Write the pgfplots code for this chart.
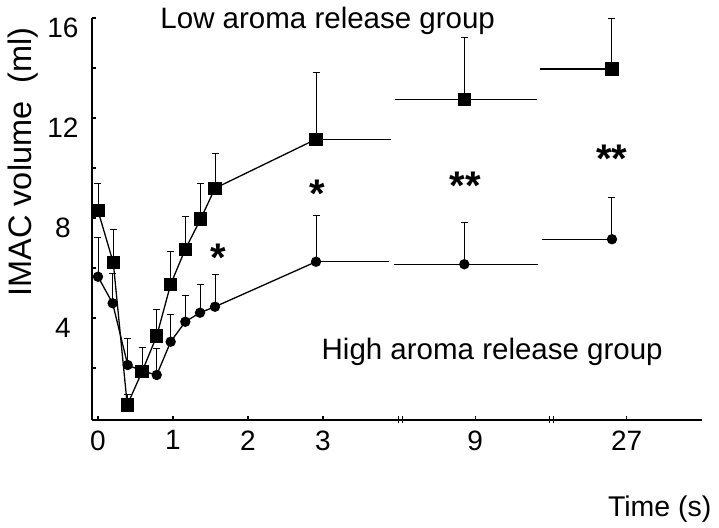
\documentclass[border=0pt]{standalone}
\usepackage{pgfplots}
\pgfplotsset{compat=1.18}
\usepackage{fontspec}
\setmainfont{Liberation Sans}
\begin{document}
\begin{tikzpicture}
\begin{axis}[
  scale only axis,
  width=610pt, height=402pt,
  xmin=-0.08, xmax=8.053,
  ymin=-0.08, ymax=16,
  axis lines=left,
  axis line style={line width=1.8pt, -},
  clip=false,
  xtick={0,1,2,3,5.03,7.05},
  xticklabels={0,1,2,3,9,27},
  ytick={4,8,12,16},
  minor ytick={2,6,10,14},
  extra x ticks={4.007,4.06,6.02,6.073},
  extra x tick labels={},
  extra x tick style={tick align=center, major tick length=7pt, tick style={line width=1.2pt}},
  tick align=inside,
  major tick length=4pt,
  minor tick length=4pt,
  tick style={line width=1.2pt, black},
  /pgf/number format/assume math mode=true,
  ticklabel style={font=\fontsize{28}{33}\selectfont},
  xticklabel style={yshift=-7pt},
  yticklabel style={anchor=center, xshift=-29pt, yshift=-10pt},
]
% --- horizontal continuation lines
\addplot[black, line width=1.3pt, no markers] coordinates {(2.907,11.15) (3.903,11.15)};
\addplot[black, line width=1.3pt, no markers] coordinates {(2.907,6.25) (3.88,6.25)};
\addplot[black, line width=1.3pt, no markers] coordinates {(3.96,12.75) (5.849,12.75)};
\addplot[black, line width=1.3pt, no markers] coordinates {(3.947,6.15) (5.863,6.15)};
\addplot[black, line width=1.3pt, no markers] coordinates {(5.897,13.96) (6.853,13.96)};
\addplot[black, line width=1.3pt, no markers] coordinates {(5.916,7.15) (6.853,7.15)};
% --- low aroma release group (squares)
\addplot[black, line width=1.3pt, mark=square*, mark size=6pt,
  mark options={solid, fill=black},
  error bars/.cd, y dir=plus, y explicit,
  error bar style={line width=1pt},
  error mark options={rotate=90, mark size=3.5pt, line width=1pt}]
  table[x=t, y=y, y error=e] {
t y e
0 8.29 1.10
0.204 6.21 1.34
0.390 0.52 0.40
0.587 1.85 0.98
0.783 3.28 1.04
0.969 5.35 1.30
1.164 6.75 1.30
1.369 7.96 1.43
1.560 9.19 1.40
2.907 11.15 2.66
};
\addplot[black, line width=1.3pt, only marks, mark=square*, mark size=6pt,
  mark options={solid, fill=black},
  error bars/.cd, y dir=plus, y explicit,
  error bar style={line width=1pt},
  error mark options={rotate=90, mark size=3.5pt, line width=1pt}]
  table[x=t, y=y, y error=e] {
t y e
4.884 12.75 2.46
6.853 13.96 2.00
};
% --- high aroma release group (circles)
\addplot[black, line width=1.3pt, mark=*, mark size=4.5pt,
  mark options={solid, fill=black},
  error bars/.cd, y dir=plus, y explicit,
  error bar style={line width=1pt},
  error mark options={rotate=90, mark size=3.5pt, line width=1pt}]
  table[x=t, y=y, y error=e] {
t y e
0 5.65 1.56
0.195 4.59 1.20
0.396 2.12 1.07
0.587 1.88 0.95
0.783 1.72 1.07
0.969 3.05 1.10
1.164 3.85 1.03
1.360 4.21 1.11
1.560 4.45 1.27
2.907 6.25 1.83
};
\addplot[black, line width=1.3pt, only marks, mark=*, mark size=4.5pt,
  mark options={solid, fill=black},
  error bars/.cd, y dir=plus, y explicit,
  error bar style={line width=1pt},
  error mark options={rotate=90, mark size=3.5pt, line width=1pt}]
  table[x=t, y=y, y error=e] {
t y e
4.884 6.15 1.68
6.853 7.15 1.66
};
% --- texts
\node[anchor=base, font=\fontsize{29.5}{34}\selectfont] at (axis cs:3.063,15.59) {Low aroma release group};
\node[anchor=base, font=\fontsize{29.5}{34}\selectfont] at (axis cs:5.256,2.32) {High aroma release group};
\node[anchor=base, font=\fontsize{28.5}{34}\selectfont] at (axis cs:7.49,-3.95) {Time (s)};
\node[anchor=base, rotate=90, font=\fontsize{32.5}{36}\selectfont] at (axis cs:-0.88,10.24) {IMAC volume\ \ (ml)};
\node[anchor=base, font=\bfseries\fontsize{40}{44}\selectfont] at (axis cs:1.6,5.84) {*};
\node[anchor=base, font=\bfseries\fontsize{40}{44}\selectfont] at (axis cs:2.92,8.4) {*};
\node[anchor=base, font=\bfseries\fontsize{40}{44}\selectfont] at (axis cs:4.9,8.72) {**};
\node[anchor=base, font=\bfseries\fontsize{40}{44}\selectfont] at (axis cs:6.853,9.8) {**};
% --- canvas extent
\path (axis cs:-1.3067,16.72) rectangle (axis cs:8.28,-4.4);
\end{axis}
\end{tikzpicture}
\end{document}
